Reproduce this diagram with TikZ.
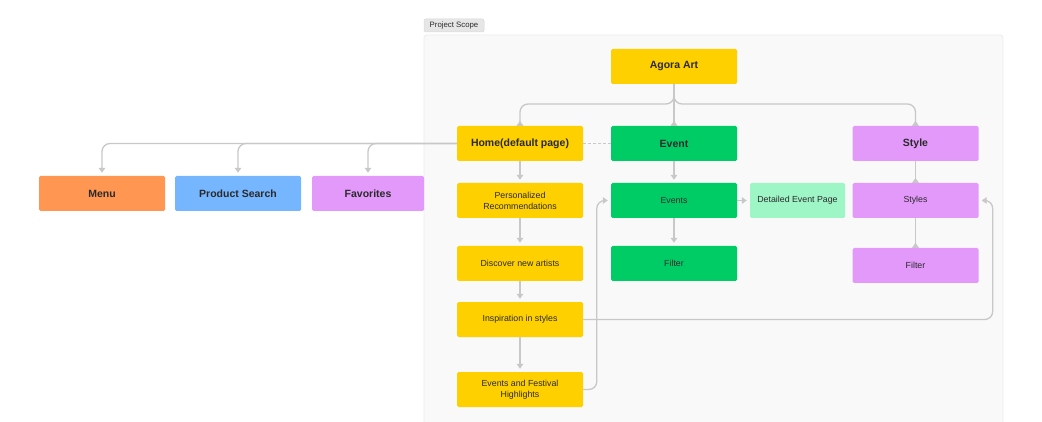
\documentclass[tikz,border=0pt]{standalone}
\usepackage{fontspec}
\setmainfont{Liberation Sans}
\usetikzlibrary{arrows.meta}
\definecolor{cyellow}{HTML}{FFD000}
\definecolor{cgreen}{HTML}{00CC66}
\definecolor{clgreen}{HTML}{9EF5C6}
\definecolor{cpurple}{HTML}{E299FA}
\definecolor{corange}{HTML}{FF9651}
\definecolor{cblue}{HTML}{76B6FF}
\definecolor{cline}{HTML}{C8C8C8}
\definecolor{cframe}{HTML}{F9F9F9}
\definecolor{cframeedge}{HTML}{ECECEC}
\definecolor{ctag}{HTML}{E6E6E6}
\definecolor{ctagedge}{HTML}{D8D8D8}
\definecolor{ctext}{HTML}{2A2A2A}
\tikzset{
  box/.style={rectangle, rounded corners=1.5pt, minimum width=126pt, minimum height=35pt,
    inner sep=2pt, align=center, text=ctext},
  head/.style={box, font=\fontsize{10.5}{12}\selectfont\bfseries},
  leaf/.style={box, font=\fontsize{8.8}{11}\selectfont},
  conn/.style={draw=cline, line width=1.3pt},
  arr/.style={conn, -{Triangle[length=5pt,width=6.5pt]}, shorten >=3pt},
  uparr/.style={conn, -{Triangle[reversed,length=5pt,width=6.5pt]}},
}
\begin{document}
\begin{tikzpicture}[x=1pt,y=-1pt]
\useasboundingbox (0,0) rectangle (1042,422);
\fill[white] (0,0) rectangle (1042,422);

% scope frame and its tag
\draw[fill=cframe, draw=cframeedge, line width=0.8pt, rounded corners=3pt] (424,35) rectangle (1003,440);
\node[fill=ctag, draw=ctagedge, line width=0.5pt, rounded corners=2pt, inner sep=0pt,
  minimum width=60pt, minimum height=13pt,
  font=\fontsize{7.8}{9}\selectfont, text=ctext] (tag) at (454,25.5) {Project Scope};

% top level
\node[head, fill=cyellow] (agora) at (674,66.5) {Agora Art};
\node[head, fill=cyellow] (home) at (520,143.5) {Home(default page)};
\node[head, fill=cgreen] (event) at (674,143.5) {Event};
\node[head, fill=cpurple] (style) at (915.5,143.5) {Style};

% pages reached from home, outside the scope
\node[head, fill=corange] (menu) at (102,193.5) {Menu};
\node[head, fill=cblue] (search) at (238,193.5) {Product Search};
\node[head, fill=cpurple, minimum width=112pt] (fav) at (368,193.5) {Favorites};

% home column
\node[leaf, fill=cyellow] (pers) at (520,200.5) {Personalized\\Recommendations};
\node[leaf, fill=cyellow] (disc) at (520,263.5) {Discover new artists};
\node[leaf, fill=cyellow] (insp) at (520,319.5) {Inspiration in styles};
\node[leaf, fill=cyellow] (efh) at (520,389.5) {Events and Festival\\Highlights};

% event column
\node[leaf, fill=cgreen] (events) at (674,200.5) {Events};
\node[leaf, fill=clgreen, minimum width=95pt] (detail) at (797.5,200.5) {Detailed Event Page};
\node[leaf, fill=cgreen] (efilter) at (674,263.5) {Filter};

% style column
\node[leaf, fill=cpurple] (styles) at (915.5,200.5) {Styles};
\node[leaf, fill=cpurple] (sfilter) at (915.5,265.5) {Filter};

% connectors from the root
\draw[uparr, rounded corners=8pt] (agora.south) -- (674,104) -| (home.north);
\draw[uparr, rounded corners=8pt] (agora.south) -- (674,104) -| (style.north);
\draw[uparr] (agora.south) -- (event.north);

% home to the outside pages
\draw[arr, rounded corners=8pt] (home.west) -| (menu.north);
\draw[arr, rounded corners=8pt] (home.west) -| (search.north);
\draw[arr, rounded corners=8pt] (home.west) -| (fav.north);
\draw[conn, line width=0.8pt, dash pattern=on 3pt off 2pt] (home.east) -- (event.west);

% home column chain
\draw[arr] (home.south) -- (pers.north);
\draw[arr] (pers.south) -- (disc.north);
\draw[arr] (disc.south) -- (insp.north);
\draw[arr] (insp.south) -- (efh.north);

% event column
\draw[arr] (event.south) -- (events.north);
\draw[arr] (events.south) -- (efilter.north);
\draw[arr] (events.east) -- (detail.west);

% style column
\draw[uparr] (style.south) -- (styles.north);
\draw[uparr] (styles.south) -- (sfilter.north);

% cross links
\draw[arr, rounded corners=8pt] (efh.east) -| ([xshift=-14pt]events.west) -- (events.west);
\draw[arr, rounded corners=8pt] (insp.east) -| ([xshift=14pt]styles.east) -- (styles.east);
\end{tikzpicture}
\end{document}
